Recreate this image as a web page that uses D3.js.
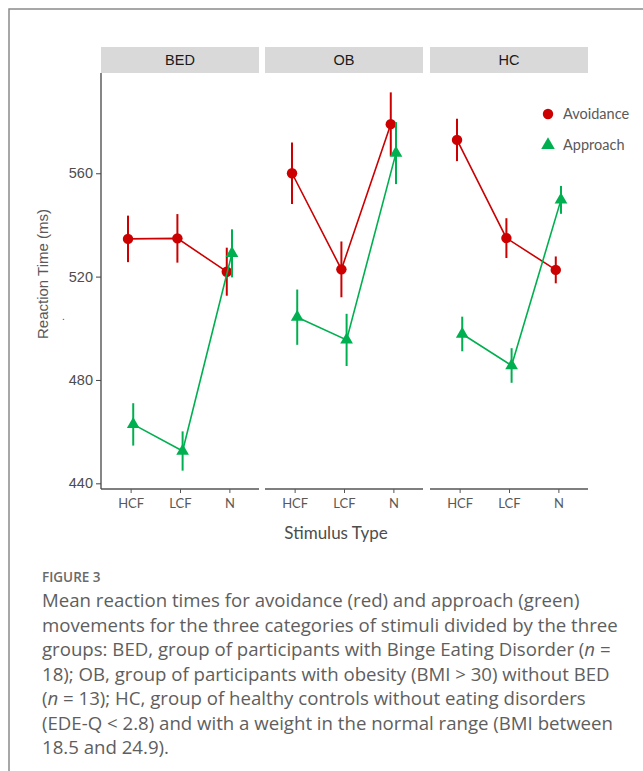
<!DOCTYPE html>
<html>
<head>
<meta charset="utf-8">
<script src="https://cdn.jsdelivr.net/npm/d3@7"></script>
<style>
  html, body { margin: 0; padding: 0; background: #fff; }
  svg { display: block; }
</style>
</head>
<body>
<svg id="chart" width="643" height="771"></svg>
<script>
// ---------------- data ----------------
const groups = ["BED", "OB", "HC"];
const stimuli = ["HCF", "LCF", "N"];
const seriesNames = ["Avoidance", "Approach"];
const yTicks = [440, 480, 520, 560];

// means per group, in stimuli order
const avoidanceMean = { BED: [534.6, 534.8, 521.9], OB: [560.0, 522.8, 579.0], HC: [572.9, 534.9, 522.6] };
const avoidanceErr  = { BED: [9.0, 9.4, 9.3],       OB: [11.9, 10.8, 12.3],    HC: [8.2, 7.7, 5.2] };
const approachMean  = { BED: [462.8, 452.5, 529.0], OB: [504.3, 495.5, 567.8], HC: [497.8, 485.6, 549.7] };
const approachErr   = { BED: [8.2, 7.6, 9.3],       OB: [10.7, 10.1, 12.0],    HC: [6.7, 6.7, 5.4] };

const captionHead = "FIGURE 3";
const captionLines = [
  [["Mean reaction times for avoidance (red) and approach (green)", false]],
  [["movements for the three categories of stimuli divided by the three", false]],
  [["groups: BED, group of participants with Binge Eating Disorder (", false], ["n", true], [" =", false]],
  [["18); OB, group of participants with obesity (BMI > 30) without BED", false]],
  [["(", false], ["n", true], [" = 13); HC, group of healthy controls without eating disorders", false]],
  [["(EDE-Q < 2.8) and with a weight in the normal range (BMI between", false]],
  [["18.5 and 24.9).", false]]
];

// ---------------- layout ----------------
const colors = { Avoidance: "#cc0000", Approach: "#00b050" };
const panelLefts = [101, 265, 430];
const panelW = 158;
const plotTop = 73, plotBottom = 489;
const stripTop = 47;

const svg = d3.select("#chart");

// outer frame (top + left edges)
svg.append("path")
  .attr("d", "M9,771 V9 H643")
  .attr("fill", "none").attr("stroke", "#8a8a8a").attr("stroke-width", 1.5);

const y = d3.scaleLinear().domain([437.8, 598.8]).range([plotBottom, plotTop]);
const x = d3.scalePoint().domain(stimuli).range([0, panelW]).padding(0.6);
const dodge = d3.scalePoint().domain(seriesNames).range([-2.6, 2.6]);

const seriesData = {
  Avoidance: { mean: avoidanceMean, err: avoidanceErr },
  Approach:  { mean: approachMean,  err: approachErr }
};

groups.forEach((g, gi) => {
  const gx = panelLefts[gi];
  const panel = svg.append("g").attr("transform", `translate(${gx},0)`);

  // strip
  panel.append("rect")
    .attr("x", 0).attr("y", stripTop).attr("width", panelW).attr("height", plotTop - stripTop)
    .attr("fill", "#d9d9d9");
  panel.append("text")
    .attr("x", panelW / 2).attr("y", (stripTop + plotTop) / 2 + 5)
    .attr("text-anchor", "middle")
    .attr("font-family", "Liberation Sans, Arial, sans-serif")
    .attr("font-size", 14.5).attr("fill", "#1a1a1a")
    .text(g);

  // x axis
  const xAxis = panel.append("g")
    .attr("transform", `translate(0,${plotBottom})`)
    .call(d3.axisBottom(x).tickSizeOuter(0).tickSizeInner(4).tickPadding(6));
  xAxis.select(".domain").attr("stroke", "#555").attr("stroke-width", 1.3).attr("d", `M0,0H${panelW}`);
  xAxis.selectAll(".tick line").attr("stroke", "#555").attr("stroke-width", 1);
  xAxis.selectAll(".tick text")
    .attr("font-family", "Lato, sans-serif").attr("font-size", 13).attr("fill", "#595959");

  // y axis only on first panel
  if (gi === 0) {
    const yAxis = panel.append("g")
      .call(d3.axisLeft(y).tickValues(yTicks).tickSizeOuter(0).tickSizeInner(5).tickPadding(3));
    yAxis.select(".domain").attr("stroke", "#444").attr("stroke-width", 1.3)
      .attr("d", `M0,${plotTop}V${plotBottom}`);
    yAxis.selectAll(".tick line").attr("stroke", "#444");
    yAxis.selectAll(".tick text")
      .attr("font-family", "Liberation Sans, Arial, sans-serif").attr("font-size", 14.5).attr("fill", "#4d4d4d");
  }

  // series
  seriesNames.forEach(s => {
    const d = stimuli.map((st, i) => ({
      st, m: seriesData[s].mean[g][i], e: seriesData[s].err[g][i]
    }));
    const px = dd => x(dd.st) + dodge(s);
    const line = d3.line().x(px).y(dd => y(dd.m));
    panel.append("path").datum(d)
      .attr("d", line).attr("fill", "none")
      .attr("stroke", colors[s]).attr("stroke-width", 1.6);
    panel.selectAll(null).data(d).enter().append("line")
      .attr("x1", px).attr("x2", px)
      .attr("y1", dd => y(dd.m - dd.e)).attr("y2", dd => y(dd.m + dd.e))
      .attr("stroke", colors[s]).attr("stroke-width", 2);
    const sym = d3.symbol().type(s === "Avoidance" ? d3.symbolCircle : d3.symbolTriangle)
      .size(s === "Avoidance" ? 85 : 70);
    panel.selectAll(null).data(d).enter().append("path")
      .attr("d", sym)
      .attr("transform", dd => `translate(${px(dd)},${y(dd.m)})`)
      .attr("fill", colors[s]);
  });
});

// y title
svg.append("text")
  .attr("transform", "translate(48,274) rotate(-90)")
  .attr("text-anchor", "middle")
  .attr("font-family", "Liberation Sans, Arial, sans-serif")
  .attr("font-size", 15).attr("fill", "#595959")
  .text("Reaction Time (ms)");
// small stray dot seen in the original
svg.append("text")
  .attr("x", 62).attr("y", 320)
  .attr("font-family", "Liberation Sans, Arial, sans-serif")
  .attr("font-size", 10).attr("fill", "#3a4a6a")
  .text(".");

// x title
svg.append("text")
  .attr("x", 336).attr("y", 539)
  .attr("text-anchor", "middle")
  .attr("font-family", "Lato, sans-serif")
  .attr("font-size", 17).attr("fill", "#4d4d4d")
  .text("Stimulus Type");

// legend
const legend = svg.append("g");
seriesNames.forEach((s, i) => {
  const ly = 114 + i * 31;
  legend.append("path")
    .attr("d", d3.symbol().type(s === "Avoidance" ? d3.symbolCircle : d3.symbolTriangle).size(s === "Avoidance" ? 85 : 80))
    .attr("transform", `translate(548,${ly})`)
    .attr("fill", colors[s]);
  legend.append("text")
    .attr("x", 563).attr("y", ly + 5)
    .attr("font-family", "Lato, sans-serif")
    .attr("font-size", 14.5).attr("fill", "#595959")
    .text(s);
});

// caption
svg.append("text")
  .attr("x", 42).attr("y", 582)
  .attr("font-family", "Open Sans, sans-serif")
  .attr("font-size", 13.5).attr("font-weight", 600).attr("fill", "#6a6a6a")
  .text(captionHead);

const cap = svg.append("g")
  .attr("font-family", "Open Sans, sans-serif")
  .attr("fill", "#5e5e5e");
let fs = 16;
captionLines.forEach((parts, i) => {
  const t = cap.append("text").attr("x", 42).attr("y", 607 + i * 24.5).attr("font-size", fs);
  parts.forEach(([str, it]) => {
    t.append("tspan").attr("font-style", it ? "italic" : "normal").text(str);
  });
});
// fit font size to the reference line width (line 3 spans ~569px)
const ref = cap.selectAll("text").nodes()[2];
const w = ref.getComputedTextLength();
fs = fs * 569 / w;
cap.selectAll("text").attr("font-size", fs);
</script>
</body>
</html>
